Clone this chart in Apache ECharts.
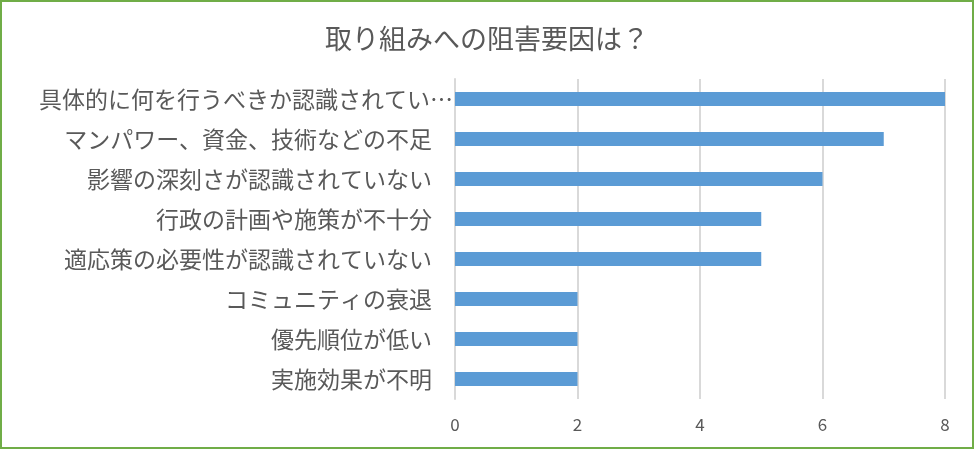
<!DOCTYPE html>
<html>
<head>
<meta charset="utf-8">
<script src="https://cdn.jsdelivr.net/npm/echarts@6/dist/echarts.min.js"></script>
<style>
html,body{margin:0;padding:0;background:#fff;}
#c{width:974px;height:449px;}
</style>
</head>
<body>
<div id="c"></div>
<script>
const titleText = '取り組みへの阻害要因は？';
const categories = [
  '具体的に何を行うべきか認識されていない',
  'マンパワー、資金、技術などの不足',
  '影響の深刻さが認識されていない',
  '行政の計画や施策が不十分',
  '適応策の必要性が認識されていない',
  'コミュニティの衰退',
  '優先順位が低い',
  '実施効果が不明'
];
const values = [8, 7, 6, 5, 5, 2, 2, 2];
const xTicks = { min: 0, max: 8, interval: 2 };

const chart = echarts.init(document.getElementById('c'));
const font = '"Noto Sans CJK JP", "Noto Sans", sans-serif';
chart.setOption({
  animation: false,
  backgroundColor: '#fff',
  title: {
    text: titleText,
    left: 'center',
    top: 20,
    textStyle: { fontFamily: font, fontSize: 27, fontWeight: 'normal', color: '#595959' }
  },
  grid: { left: 455, right: 29, top: 79, bottom: 50, containLabel: false },
  xAxis: {
    type: 'value',
    min: xTicks.min, max: xTicks.max, interval: xTicks.interval,
    axisLine: { show: false },
    axisTick: { show: false },
    splitLine: { show: true, lineStyle: { color: '#d9d9d9', width: 2 } },
    axisLabel: { margin: 17, fontFamily: font, fontSize: 17, color: '#595959' }
  },
  yAxis: {
    type: 'category',
    inverse: true,
    data: categories,
    axisLine: { show: true, lineStyle: { color: '#d9d9d9', width: 2 } },
    axisTick: { show: false },
    axisLabel: {
      margin: 2,
      fontFamily: font,
      fontSize: 23,
      color: '#595959',
      formatter: function (v) {
        if (v.length > 17) return '{e|' + v.slice(0, 17) + '…}';
        return '{n|' + v + '}';
      },
      rich: {
        n: { fontFamily: font, fontSize: 23, color: '#595959', padding: [0, 21, 0, 0] },
        e: { fontFamily: font, fontSize: 23, color: '#595959' }
      }
    }
  },
  series: [{
    type: 'bar',
    data: values,
    barWidth: 14,
    itemStyle: { color: '#5B9BD5' }
  }],
  graphic: [{
    type: 'rect',
    silent: true,
    z: 100,
    shape: { x: 1, y: 1, width: 972, height: 447 },
    style: { fill: 'none', stroke: '#70AD47', lineWidth: 2 }
  }]
});
</script>
</body>
</html>
